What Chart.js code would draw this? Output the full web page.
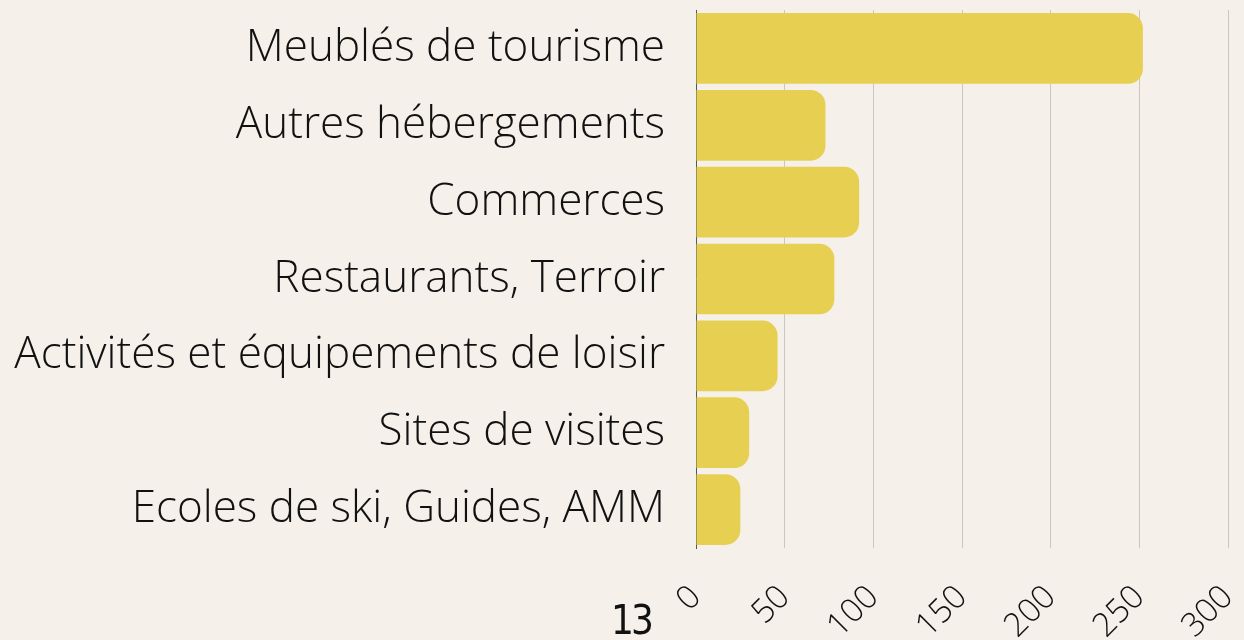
<!DOCTYPE html>
<html>
<head>
<meta charset="utf-8">
<script src="https://cdn.jsdelivr.net/npm/chart.js@4"></script>
<style>
  html, body { margin: 0; padding: 0; background: #f5f0ea; }
  #wrap { position: relative; width: 1244px; height: 640px; }
  #page { position: absolute; left: 611px; top: 600px; font-family: "DejaVu Sans Condensed", "Liberation Sans Narrow"; font-size: 40px; line-height: 41px; letter-spacing: -3px; color: #111; }
</style>
</head>
<body>
<div id="wrap">
  <canvas id="myChart" width="1244" height="640"></canvas>
  <div id="page">13</div>
</div>
<script>
  const categories = [
    'Meublés de tourisme',
    'Autres hébergements',
    'Commerces',
    'Restaurants, Terroir',
    'Activités et équipements de loisir',
    'Sites de visites',
    'Ecoles de ski, Guides, AMM'
  ];
  const counts = [252, 73, 92, 78, 46, 30, 25];
  const xTicks = [0, 50, 100, 150, 200, 250, 300];
  const barColor = '#e7cf52';

  var ctx = document.getElementById('myChart');
  let myChart = new Chart(ctx, {
    type: 'bar',
    data: {
      labels: categories,
      datasets: [{
        data: counts,
        backgroundColor: barColor,
        borderRadius: 15,
        borderSkipped: 'start',
        categoryPercentage: 1,
        barPercentage: 0.92
      }]
    },
    options: {
      indexAxis: 'y',
      responsive: false,
      animation: false,
      layout: { padding: { top: 10, right: 16, left: 0, bottom: 0 } },
      plugins: { legend: { display: false }, tooltip: { enabled: false } },
      scales: {
        x: {
          min: xTicks[0],
          max: xTicks[xTicks.length - 1],
          afterBuildTicks: function (axis) {
            axis.ticks = xTicks.map(function (v) { return { value: v }; });
          },
          afterFit: function (axis) {
            axis.height = 92;
            axis.paddingLeft = 0;
            axis.paddingRight = 0;
          },
          grid: { color: '#cbc6c0', drawTicks: false },
          border: { display: false },
          ticks: {
            color: '#111',
            font: { family: 'Open Sans', size: 33, weight: 300 },
            minRotation: 45,
            maxRotation: 45,
            padding: 30
          }
        },
        y: {
          afterFit: function (axis) {
            axis.width = 696;
            axis.paddingTop = 0;
            axis.paddingBottom = 0;
          },
          grid: { display: false },
          border: { display: true, color: '#555' },
          ticks: {
            color: '#111',
            font: { family: 'Open Sans', size: 44, weight: 300 },
            padding: 23
          }
        }
      }
    }
  });
</script>
</body>
</html>
